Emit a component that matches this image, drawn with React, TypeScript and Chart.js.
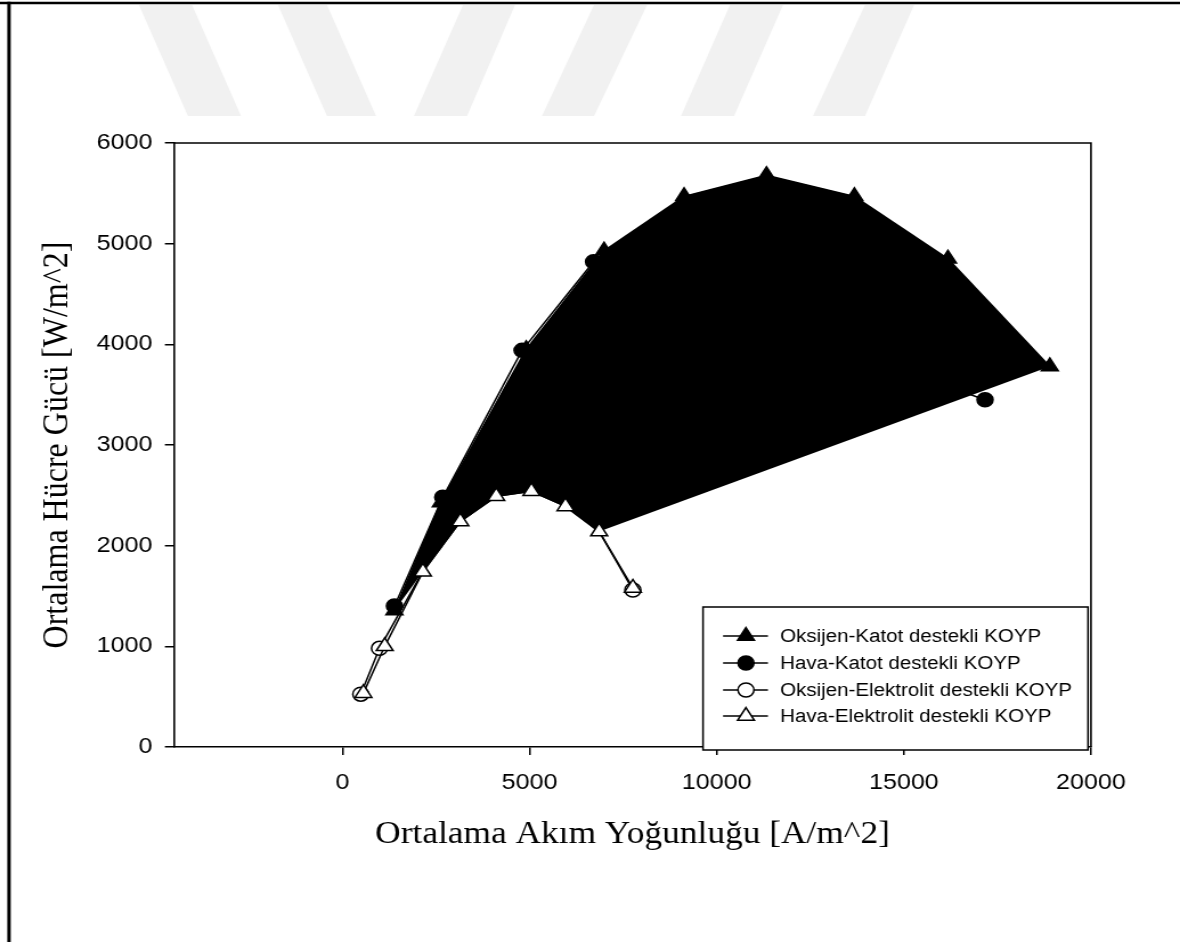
import { useEffect, useRef } from "react";
import { Chart, registerables } from "chart.js";

Chart.register(...registerables);

// Average current density [A/m^2] and average cell power [W/m^2] for each configuration
const oksijenKatotX = [1390, 2630, 4910, 6990, 9130, 11330, 13680, 16180, 18900];
const oksijenKatotY = [1355, 2430, 3950, 4930, 5470, 5680, 5470, 4850, 3780];

const havaKatotX = [1390, 2680, 4800, 6710, 17170];
const havaKatotY = [1400, 2480, 3940, 4820, 3450];

const oksijenElektrolitX = [490, 990, 2140, 3150, 4110, 5050, 5960, 6860, 7760];
const oksijenElektrolitY = [525, 980, 1740, 2240, 2490, 2540, 2390, 2140, 1560];

const havaElektrolitX = [560, 1130, 2150, 3150, 4110, 5050, 5960, 6860, 7760];
const havaElektrolitY = [535, 1000, 1740, 2240, 2490, 2540, 2390, 2140, 1580];

const xTicks = [0, 5000, 10000, 15000, 20000];
const yTicks = [0, 1000, 2000, 3000, 4000, 5000, 6000];

const seriesNames = [
  "Oksijen-Katot destekli KOYP",
  "Hava-Katot destekli KOYP",
  "Oksijen-Elektrolit destekli KOYP",
  "Hava-Elektrolit destekli KOYP",
];

const xTitle = "Ortalama Akım Yoğunluğu [A/m^2]";
const yTitle = "Ortalama Hücre Gücü [W/m^2]";

// The figure is drawn on a narrower canvas and widened horizontally.
const PAGE_W = 1180;
const PAGE_H = 942;
const CANVAS_W = 1035;
const STRETCH = PAGE_W / CANVAS_W;

const SANS = '"Liberation Sans", Arial, sans-serif';
const SERIF = '"Liberation Serif", "Times New Roman", serif';

const TRI_R = 8.5;
const CIRC_R = 7;

const pts = (xs: number[], ys: number[]) => xs.map((x, i) => ({ x, y: ys[i] }));

type Marker = { style: "triangle" | "circle"; filled: boolean };
const markers: Marker[] = [
  { style: "triangle", filled: true },
  { style: "circle", filled: true },
  { style: "circle", filled: false },
  { style: "triangle", filled: false },
];

function drawMarker(ctx: CanvasRenderingContext2D, m: Marker, x: number, y: number) {
  ctx.beginPath();
  if (m.style === "triangle") {
    let a = 0;
    ctx.moveTo(x + Math.sin(a) * TRI_R, y - Math.cos(a) * TRI_R);
    a += (2 * Math.PI) / 3;
    ctx.lineTo(x + Math.sin(a) * TRI_R, y - Math.cos(a) * TRI_R);
    a += (2 * Math.PI) / 3;
    ctx.lineTo(x + Math.sin(a) * TRI_R, y - Math.cos(a) * TRI_R);
    ctx.closePath();
  } else {
    ctx.arc(x, y, CIRC_R, 0, Math.PI * 2);
  }
  ctx.fillStyle = m.filled ? "#000" : "#fff";
  ctx.fill();
  ctx.lineWidth = 1.5;
  ctx.strokeStyle = "#000";
  ctx.stroke();
}

// Page background: white sheet, light watermark bands and the sheet border
const pagePlugin = {
  id: "page",
  beforeDraw(chart: Chart) {
    const { ctx, width, height } = chart;
    ctx.save();
    ctx.fillStyle = "#fff";
    ctx.fillRect(0, 0, width, height);

    const bands: [number, number, number, number][] = [
      [139, 192, 188, 241],
      [278, 327, 327, 376],
      [463, 515, 414, 467],
      [594, 647, 542, 594],
      [730, 783, 681, 734],
      [865, 914, 813, 865],
    ];
    ctx.fillStyle = "#f1f1f1";
    for (const [t0, t1, b0, b1] of bands) {
      ctx.beginPath();
      ctx.moveTo(t0 / STRETCH, 5);
      ctx.lineTo(t1 / STRETCH, 5);
      ctx.lineTo(b1 / STRETCH, 116);
      ctx.lineTo(b0 / STRETCH, 116);
      ctx.closePath();
      ctx.fill();
    }

    ctx.strokeStyle = "#000";
    ctx.lineWidth = 2.6;
    ctx.beginPath();
    ctx.moveTo(0, 3);
    ctx.lineTo(width, 3);
    ctx.stroke();
    ctx.lineWidth = 3;
    ctx.beginPath();
    ctx.moveTo(7.9, 1.7);
    ctx.lineTo(7.9, height);
    ctx.stroke();
    ctx.restore();
  },
};

// Closes the plot frame on the top and right sides
const framePlugin = {
  id: "frame",
  beforeDatasetsDraw(chart: Chart) {
    const { ctx, chartArea } = chart;
    ctx.save();
    ctx.strokeStyle = "#000";
    ctx.lineWidth = 1.6;
    ctx.beginPath();
    ctx.moveTo(chartArea.left, chartArea.top);
    ctx.lineTo(chartArea.right, chartArea.top);
    ctx.lineTo(chartArea.right, chartArea.bottom);
    ctx.stroke();
    ctx.restore();
  },
};

// Black band between the Oksijen-Katot curve and the Hava-Elektrolit curve
const bandPlugin = {
  id: "band",
  beforeDatasetDraw(chart: Chart, args: { index: number }) {
    if (args.index !== 1) return;
    const { ctx, chartArea } = chart;
    const xs = chart.scales.x;
    const ys = chart.scales.y;
    const upper = pts(oksijenKatotX, oksijenKatotY);
    const lower = pts(havaElektrolitX, havaElektrolitY).slice(2, 8).reverse();
    const poly = [...upper, ...lower];
    ctx.save();
    ctx.beginPath();
    ctx.rect(chartArea.left, chartArea.top, chartArea.right - chartArea.left, chartArea.bottom - chartArea.top);
    ctx.clip();
    ctx.beginPath();
    poly.forEach((p, i) => {
      const px = xs.getPixelForValue(p.x);
      const py = ys.getPixelForValue(p.y);
      if (i === 0) ctx.moveTo(px, py);
      else ctx.lineTo(px, py);
    });
    ctx.closePath();
    ctx.fillStyle = "#000";
    ctx.fill();
    ctx.restore();
  },
};

// Boxed legend in the lower right corner of the plot
const legendPlugin = {
  id: "boxLegend",
  afterDraw(chart: Chart) {
    const { ctx } = chart;
    const L = 616.6;
    const R = 954.3;
    const T = 607;
    const B = 750;
    ctx.save();
    ctx.fillStyle = "#fff";
    ctx.fillRect(L, T, R - L, B - T);
    ctx.strokeStyle = "#000";
    ctx.lineWidth = 1.5;
    ctx.strokeRect(L, T, R - L, B - T);

    const rowY = [636, 663, 690, 716];
    ctx.font = `18px ${SANS}`;
    ctx.textBaseline = "middle";
    ctx.textAlign = "left";
    seriesNames.forEach((name, i) => {
      const y = rowY[i];
      ctx.strokeStyle = "#000";
      ctx.lineWidth = 1.5;
      ctx.beginPath();
      ctx.moveTo(634.2, y);
      ctx.lineTo(673.6, y);
      ctx.stroke();
      drawMarker(ctx, markers[i], 654.3, y);
      ctx.fillStyle = "#000";
      ctx.fillText(name, 684.2, y + 1);
    });
    ctx.restore();
  },
};

export default function App() {
  const canvasRef = useRef<HTMLCanvasElement>(null);

  useEffect(() => {
    const canvas = canvasRef.current;
    if (!canvas) return;

    const lineDataset = (label: string, data: { x: number; y: number }[], m: Marker, radius: number | number[]) => ({
      label,
      data,
      showLine: true,
      borderColor: "#000",
      borderWidth: 1.5,
      backgroundColor: m.filled ? "#000" : "#fff",
      pointStyle: m.style,
      pointRadius: radius,
      pointBackgroundColor: m.filled ? "#000" : "#fff",
      pointBorderColor: "#000",
      pointBorderWidth: 1.5,
      fill: false,
      tension: 0,
    });

    // Open circles that sit under the open triangles are hidden by them
    const oeRadius = oksijenElektrolitX.map((_, i) =>
      i < 2 || i === oksijenElektrolitX.length - 1 ? CIRC_R : 0
    );

    const chart = new Chart(canvas, {
      type: "scatter",
      data: {
        datasets: [
          lineDataset(seriesNames[3], pts(havaElektrolitX, havaElektrolitY), markers[3], TRI_R),
          lineDataset(seriesNames[0], pts(oksijenKatotX, oksijenKatotY), markers[0], TRI_R),
          lineDataset(seriesNames[1], pts(havaKatotX, havaKatotY), markers[1], CIRC_R),
          lineDataset(seriesNames[2], pts(oksijenElektrolitX, oksijenElektrolitY), markers[2], oeRadius),
        ],
      },
      options: {
        responsive: false,
        maintainAspectRatio: false,
        animation: false,
        devicePixelRatio: 1,
        layout: { padding: { left: 0, top: 143, right: 78.1, bottom: 0 } },
        plugins: {
          legend: { display: false },
          tooltip: { enabled: false },
        },
        scales: {
          x: {
            type: "linear",
            min: -4500,
            max: 20000,
            afterBuildTicks: (axis: any) => {
              axis.ticks = xTicks.map((v) => ({ value: v }));
            },
            afterFit: (scale: any) => {
              scale.height = PAGE_H - 747;
            },
            grid: {
              display: true,
              drawOnChartArea: false,
              drawTicks: true,
              tickLength: 8,
              color: "#000",
              lineWidth: 1.5,
            },
            border: { display: true, color: "#000", width: 1.6 },
            ticks: {
              color: "#000",
              font: { family: SANS, size: 22 },
              padding: 15,
              maxRotation: 0,
              autoSkip: false,
              callback: (v: any) => String(v),
            },
            title: {
              display: true,
              text: xTitle,
              color: "#000",
              font: { family: SERIF, size: 31, lineHeight: 1 },
              padding: { top: 0, bottom: 92 },
            },
          },
          y: {
            type: "linear",
            min: 0,
            max: 6000,
            afterBuildTicks: (axis: any) => {
              axis.ticks = yTicks.map((v) => ({ value: v }));
            },
            afterFit: (scale: any) => {
              scale.width = 174 / STRETCH;
            },
            grid: {
              display: true,
              drawOnChartArea: false,
              drawTicks: true,
              tickLength: 8,
              color: "#000",
              lineWidth: 1.5,
            },
            border: { display: true, color: "#000", width: 1.6 },
            ticks: {
              color: "#000",
              font: { family: SANS, size: 22 },
              padding: 11,
              autoSkip: false,
              callback: (v: any) => String(v),
            },
            title: {
              display: true,
              text: yTitle,
              color: "#000",
              font: { family: SERIF, size: 32, lineHeight: 1 },
              padding: { top: 35, bottom: 0 },
            },
          },
        },
      },
      plugins: [pagePlugin, framePlugin, bandPlugin, legendPlugin],
    } as any);

    return () => chart.destroy();
  }, []);

  return (
    <div
      style={{
        position: "fixed",
        left: 0,
        top: 0,
        width: PAGE_W,
        height: PAGE_H,
        overflow: "hidden",
        background: "#fff",
      }}
    >
      <div
        style={{
          width: CANVAS_W,
          height: PAGE_H,
          transform: `scaleX(${STRETCH})`,
          transformOrigin: "0 0",
        }}
      >
        <canvas
          ref={canvasRef}
          width={CANVAS_W}
          height={PAGE_H}
          style={{ display: "block", width: CANVAS_W, height: PAGE_H }}
        />
      </div>
    </div>
  );
}
